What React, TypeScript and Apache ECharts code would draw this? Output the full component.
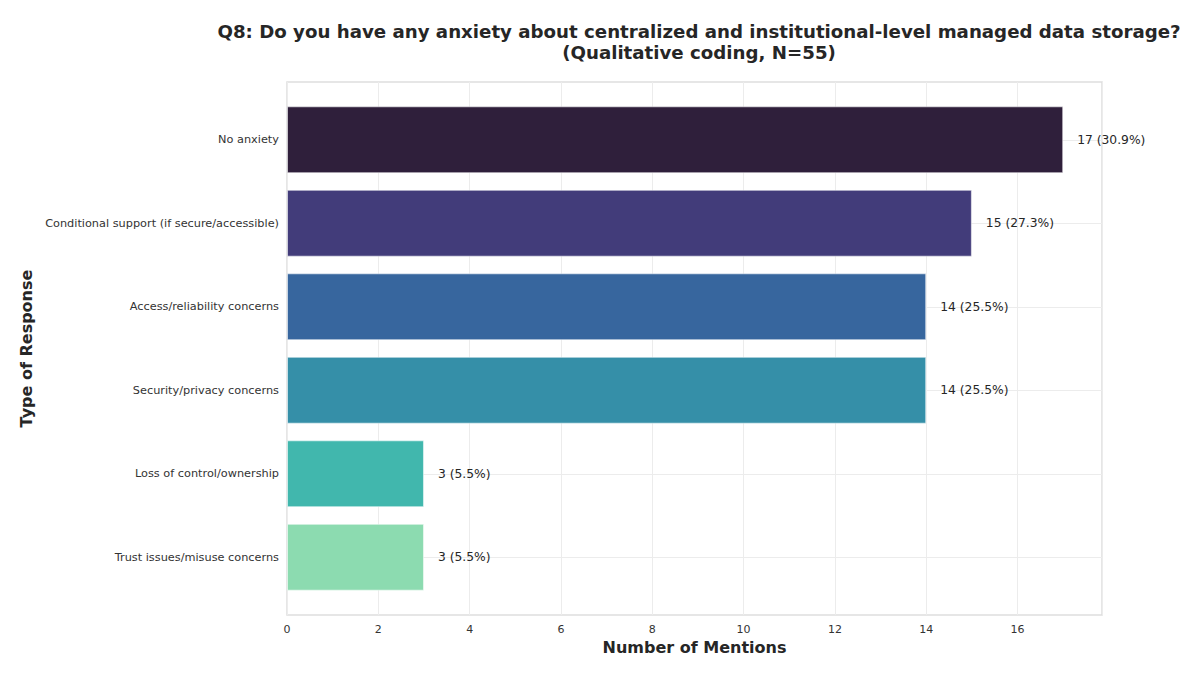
import React, { useEffect, useRef } from "react";
import * as echarts from "echarts";

const categories = [
  "No anxiety",
  "Conditional support (if secure/accessible)",
  "Access/reliability concerns",
  "Security/privacy concerns",
  "Loss of control/ownership",
  "Trust issues/misuse concerns",
];
const mentions = [17, 15, 14, 14, 3, 3];
const barColors = ["#2f1f3b", "#423c7a", "#37669e", "#358fa8", "#41b7ad", "#8cdbb0"];
const totalN = 55;
const xTicks = [0, 2, 4, 6, 8, 10, 12, 14, 16];

const FONT = "DejaVu Sans";

export default function App() {
  const ref = useRef<HTMLDivElement>(null);
  useEffect(() => {
    document.body.style.margin = "0";
    const chart = echarts.init(ref.current!, null, { renderer: "svg" });
    chart.setOption({
      animation: false,
      backgroundColor: "#ffffff",
      title: {
        text:
          "Q8: Do you have any anxiety about centralized and institutional-level managed data storage?\n(Qualitative coding, N=55)",
        left: 694,
        top: 16,
        textAlign: "center",
        textStyle: {
          fontFamily: FONT,
          fontSize: 18.2,
          fontWeight: "bold",
          color: "#262626",
          lineHeight: 21,
        },
      },
      grid: [
        {
          left: 287,
          right: 98,
          top: 82,
          bottom: 64,
          show: true,
          borderColor: "#dedede",
          borderWidth: 1.5,
          backgroundColor: "transparent",
        },
        { left: 287, right: 98, top: 98, bottom: 80 },
      ],
      xAxis: [
        {
          gridIndex: 0,
          type: "value",
          min: 0,
          max: 17.85,
          interval: 2,
          axisLine: { show: false },
          axisTick: { show: false },
          axisLabel: {
            showMaxLabel: false,
            fontFamily: FONT,
            fontSize: 11,
            color: "#333333",
            margin: 9,
            formatter: (v: number) => (xTicks.includes(v) ? String(v) : ""),
          },
          splitLine: { show: true, lineStyle: { color: "#ececec", width: 1 } },
          name: "Number of Mentions",
          nameLocation: "middle",
          nameGap: 24,
          nameTextStyle: { fontFamily: FONT, fontSize: 16, fontWeight: "bold", color: "#262626" },
        },
        {
          gridIndex: 1,
          type: "value",
          min: 0,
          max: 17.85,
          show: false,
          splitLine: { show: false },
        },
      ],
      yAxis: [
        {
          gridIndex: 0,
          type: "value",
          min: 0,
          max: 1,
          show: false,
          splitLine: { show: false },
        },
        {
          gridIndex: 1,
          type: "category",
          data: categories,
          inverse: true,
          axisLine: { show: false },
          axisTick: { show: false },
          axisLabel: { fontFamily: FONT, fontSize: 11.3, color: "#333333", margin: 8 },
          splitLine: { show: true, alignWithLabel: true, lineStyle: { color: "#ececec", width: 1 } },
          name: "Type of Response",
          nameLocation: "middle",
          nameGap: 245,
          nameRotate: 90,
          nameTextStyle: { fontFamily: FONT, fontSize: 16, fontWeight: "bold", color: "#262626" },
        },
      ],
      series: [
        {
          type: "bar",
          xAxisIndex: 1,
          yAxisIndex: 1,
          barWidth: "80%",
          data: mentions.map((v, i) => ({
            value: v,
            itemStyle: { color: barColors[i], borderColor: "rgba(255,255,255,0.5)", borderWidth: 1 },
          })),
          label: {
            show: true,
            position: "right",
            distance: 14,
            fontFamily: FONT,
            fontSize: 12.3,
            color: "#262626",
            formatter: (p: any) => `${p.value} (${((p.value / totalN) * 100).toFixed(1)}%)`,
          },
        },
      ],
    });
    return () => chart.dispose();
  }, []);
  return <div ref={ref} style={{ width: 1200, height: 679 }} />;
}
